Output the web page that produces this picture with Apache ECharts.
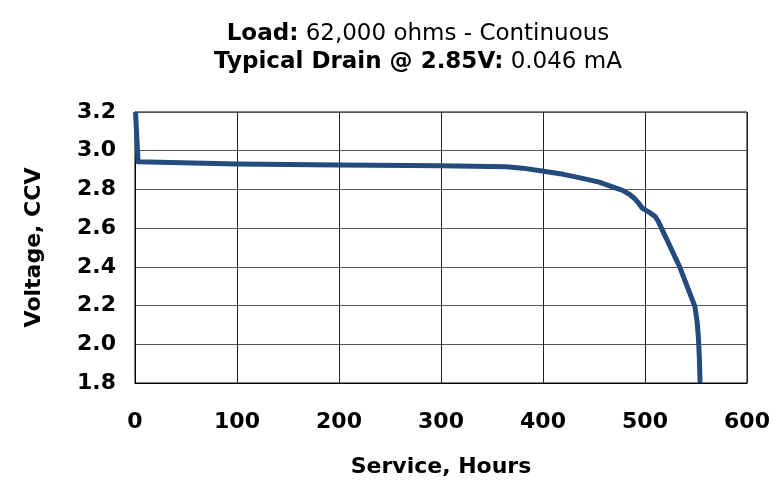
<!DOCTYPE html>
<html>
<head>
	<meta charset="utf-8">
	<title>Service curve</title>
	<style>html,body{margin:0;padding:0;background:#fff;}</style>
</head>
<body>
	<div style="width:780px;height:484px;" id="chart1"></div>
	<script src="https://cdn.jsdelivr.net/npm/echarts@6/dist/echarts.min.js"></script>
	<script type="text/javascript">

    // service hours vs closed circuit voltage
    var hours = [0.5, 3, 100, 200, 300, 364, 380, 399, 420, 440, 455, 466, 478, 485, 490, 493.5, 497, 505, 510, 513, 534, 549, 551, 552.3, 553.3, 554];
    var volts = [3.2, 2.943, 2.931, 2.926, 2.922, 2.917, 2.910, 2.895, 2.878, 2.856, 2.838, 2.817, 2.795, 2.774, 2.752, 2.731, 2.705, 2.679, 2.660, 2.635, 2.40, 2.194, 2.12, 2.04, 1.93, 1.8];

    var fontFam = 'DejaVu Sans';

    function show(){
        var myChart = echarts.init(document.getElementById('chart1'));
        var pts = [];
        for (var i = 0; i < hours.length; i++) pts.push([hours[i], volts[i]]);

        var titleStyle = {
            fontFamily: fontFam, fontSize: 23, fontWeight: 'normal', color: '#000', lineHeight: 28,
            rich: { b: {fontFamily: fontFam, fontSize: 23, fontWeight: 'bold', color: '#000', lineHeight: 28} }
        };

        var option = {
            animation: false,
            title: [
                {
                    text: '{b|Load:} 62,000 ohms - Continuous',
                    left: 413, top: 15, textAlign: 'center',
                    textStyle: titleStyle
                },
                {
                    text: '{b|Typical Drain @ 2.85V:} 0.046 mA',
                    left: 413, top: 43, textAlign: 'center',
                    textStyle: titleStyle
                }
            ],
            grid: {
                left: 135, right: 33, top: 112, bottom: 101,
                show: true, borderColor: '#000', borderWidth: 1
            },
            xAxis: {
                type: 'value', min: 0, max: 600, interval: 100,
                name: 'Service, Hours', nameLocation: 'middle', nameGap: 73,
                nameTextStyle: {fontFamily: fontFam, fontSize: 22, fontWeight: 'bold', color: '#000'},
                axisLine: {lineStyle: {color: '#000'}},
                axisTick: {show: false},
                axisLabel: {fontFamily: fontFam, fontSize: 22, fontWeight: 'bold', color: '#000', margin: 28},
                splitLine: {lineStyle: {color: '#222', width: 1}}
            },
            yAxis: {
                type: 'value', min: 1.8, max: 3.2, interval: 0.2,
                name: 'Voltage, CCV', nameLocation: 'middle', nameGap: 90, nameRotate: 90,
                nameTextStyle: {fontFamily: fontFam, fontSize: 22, fontWeight: 'bold', color: '#000'},
                axisLine: {show: true, lineStyle: {color: '#000'}},
                axisTick: {show: false},
                axisLabel: {fontFamily: fontFam, fontSize: 22, fontWeight: 'bold', color: '#000', margin: 19,
                    formatter: function (v) { return v.toFixed(1); }},
                splitLine: {lineStyle: {color: '#555', width: 1}}
            },
            series: [
                {
                    type: 'line',
                    data: pts,
                    showSymbol: false,
                    lineStyle: {color: '#244B7D', width: 5, join: 'round', cap: 'butt'},
                    clip: false
                }
            ]
        };
        myChart.setOption(option, true);
    }

    show();
	</script>
</body>
</html>
